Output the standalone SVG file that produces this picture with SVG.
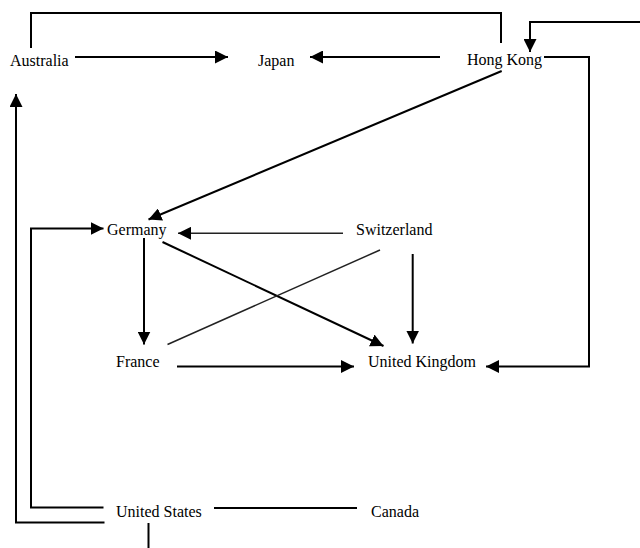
<svg xmlns="http://www.w3.org/2000/svg" width="640" height="548" viewBox="0 0 640 548">
<defs>
<marker id="ah" markerUnits="userSpaceOnUse" markerWidth="13" markerHeight="13" viewBox="0 0 13 13" refX="13" refY="6.5" orient="auto">
<path d="M0,0 L13,6.5 L0,13 z" fill="#000"/>
</marker>
<style>
text{font-family:"Liberation Serif","Times New Roman",serif;font-size:16px;fill:#000}
.c{fill:none;stroke:#000;stroke-width:2}
.t{fill:none;stroke:#222;stroke-width:1.5}
.a{marker-end:url(#ah)}
</style>
</defs>
<rect width="640" height="548" fill="#fff"/>
<g id="connectors">
<line class="c a" x1="75" y1="57" x2="228" y2="57"/>
<line class="c a" x1="440" y1="57" x2="310" y2="57"/>
<polyline class="c" points="31,48 31,13 501,13 501,43"/>
<polyline class="c a" points="640,22 530,22 530,52"/>
<polyline class="c a" points="544,57 589,57 589,366.5 486,366.5"/>
<line class="c a" x1="501.7" y1="71" x2="148.5" y2="219.5"/>
<line class="t a" x1="343" y1="233.3" x2="178" y2="233.3"/>
<line class="c a" x1="412.7" y1="254" x2="412.7" y2="343.5"/>
<line class="c a" x1="144" y1="238" x2="144" y2="344.5"/>
<line class="c a" x1="162.5" y1="242" x2="383.5" y2="346"/>
<line class="t" x1="167.5" y1="344.5" x2="380" y2="250"/>
<line class="c a" x1="177" y1="366.5" x2="354" y2="366.5"/>
<polyline class="c a" points="103.5,507.5 31,507.5 31,228.5 103.5,228.5"/>
<polyline class="c a" points="104.5,522.5 16,522.5 16,94"/>
<line class="c" x1="214" y1="508" x2="357" y2="508"/>
<line class="c" x1="148.5" y1="523" x2="148.5" y2="548"/>
</g>
<g id="australia"><text x="10" y="66">Australia</text></g>
<g id="japan"><text x="258" y="66">Japan</text></g>
<g id="hongkong"><text x="467" y="65">Hong Kong</text></g>
<g id="germany"><text x="107" y="234.5">Germany</text></g>
<g id="switzerland"><text x="356" y="234.5">Switzerland</text></g>
<g id="france"><text x="116" y="367">France</text></g>
<g id="uk"><text x="368" y="367">United Kingdom</text></g>
<g id="us"><text x="116" y="517">United States</text></g>
<g id="canada"><text x="371" y="517">Canada</text></g>
</svg>
